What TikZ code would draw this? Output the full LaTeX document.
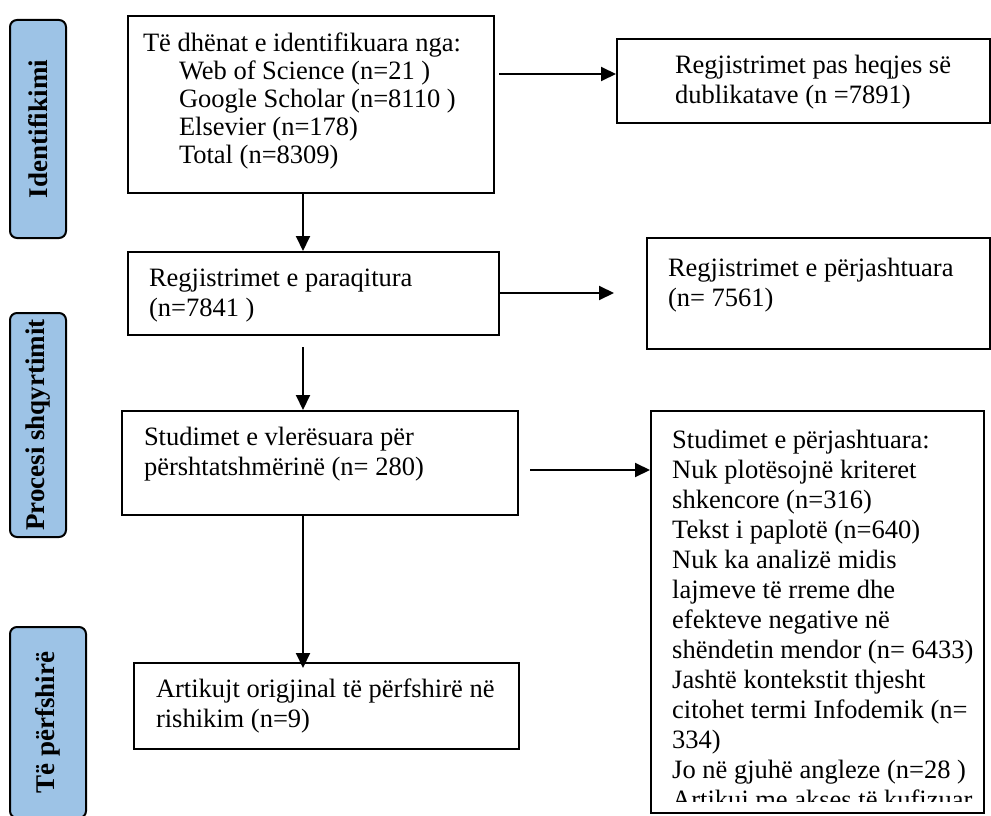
\documentclass[tikz,border=0pt]{standalone}
\usepackage{fontspec}
\setmainfont{Liberation Serif}
\usetikzlibrary{arrows.meta}
\definecolor{lblue}{RGB}{157,195,230}
\newdimen\BW \newdimen\BP
\newcommand\bxtext[4][30pt]{\vbox to #2{\baselineskip=#1\lineskiplimit=-100pt\lineskip=0pt\kern#3\relax#4\vss}}
\newcommand\tln[1]{\hbox to\BW{\kern\BP\rule{0pt}{20pt}#1\hfil}}
\tikzset{
  box/.style={draw, line width=2pt, inner sep=0pt, anchor=north west, font=\fontsize{26.5}{30}\selectfont},
  txt/.style={inner sep=0pt, anchor=north west, font=\fontsize{26.5}{30}\selectfont},
  lbl/.style={draw, line width=2pt, fill=lblue, rounded corners=7pt, rotate=90, inner sep=0pt, font=\bfseries\fontsize{27}{30}\selectfont},
  arr/.style={line width=2pt, -{Triangle[length=15pt,width=14pt]}}
}
\begin{document}
\begin{tikzpicture}[x=1pt,y=-1pt]
\useasboundingbox (0,0) rectangle (991,816);
\clip (0,0) rectangle (991,816);
% side labels
\node[lbl, minimum width=218pt, minimum height=56pt] (L1) at (38,129) {Identifikimi};
\node[lbl, minimum width=224pt, minimum height=56pt] (L2) at (38,425) {Procesi shqyrtimit};
\node[lbl, minimum width=191pt, minimum height=76pt] (L3) at (48,722.5) {Të përfshirë};
% boxes
\node[box] (b1) at (127,15) {\BW=366pt\BP=15pt\bxtext[28pt]{177pt}{15pt}{%
  \tln{Të dhënat e identifikuara nga:}%
  \tln{\kern36pt Web of Science (n=21 )}%
  \tln{\kern36pt Google Scholar (n=8110 )}%
  \tln{\kern36pt Elsevier (n=178)}%
  \tln{\kern36pt Total (n=8309)}}};
\node[box] (b2) at (616,38) {\BW=373pt\BP=58pt\bxtext{84pt}{14pt}{%
  \tln{Regjistrimet pas heqjes së}%
  \tln{dublikatave (n =7891)}}};
\node[box] (b3) at (127,251) {\BW=371pt\BP=21pt\bxtext{83pt}{14pt}{%
  \tln{Regjistrimet e paraqitura}%
  \tln{(n=7841 )}}};
\node[box] (b4) at (646,237) {\BW=343pt\BP=21pt\bxtext{111pt}{18pt}{%
  \tln{Regjistrimet e përjashtuara}%
  \tln{(n= 7561)}}};
\node[box] (b5) at (121,410) {\BW=396pt\BP=22pt\bxtext{104pt}{14pt}{%
  \tln{Studimet e vlerësuara për}%
  \tln{përshtatshmërinë (n= 280)}}};
\node[box, minimum width=333pt, minimum height=402pt] (b6) at (650,410) {};
\begin{scope}
\clip (650,410) rectangle (983,801);
\node[txt] (b6t) at (b6.north west) {\BW=333pt\BP=22pt\bxtext{402pt}{18pt}{%
  \tln{Studimet e përjashtuara:}%
  \tln{Nuk plotësojnë kriteret}%
  \tln{shkencore (n=316)}%
  \tln{Tekst i paplotë (n=640)}%
  \tln{Nuk ka analizë midis}%
  \tln{lajmeve të rreme dhe}%
  \tln{efekteve negative në}%
  \tln{shëndetin mendor (n= 6433)}%
  \tln{Jashtë kontekstit thjesht}%
  \tln{citohet termi Infodemik (n=}%
  \tln{334)}%
  \tln{Jo në gjuhë angleze (n=28 )}%
  \tln{Artikuj me akses të kufizuar}}};
\end{scope}
\node[box] (b7) at (133,662) {\BW=385pt\BP=22pt\bxtext{86pt}{14pt}{%
  \tln{Artikujt origjinal të përfshirë në}%
  \tln{rishikim (n=9)}}};
% connectors
\coordinate (dx) at (303,0);
\coordinate (a1s) at (499,74);
\coordinate (a2e) at (614,293);
\coordinate (d2s) at (303,347);
\coordinate (a3s) at (530,470);
\draw[arr] (a1s) -- (a1s -| b2.west);
\draw[arr] (b1.south -| dx) -- (b3.north -| dx);
\draw[arr] (b3.east |- a2e) -- (a2e);
\draw[arr] (d2s) -- (d2s |- b5.north);
\draw[arr] (a3s) -- (a3s -| b6.west);
\draw[arr, shorten >=-6pt] (b5.south -| dx) -- (b7.north -| dx);
\end{tikzpicture}
\end{document}
